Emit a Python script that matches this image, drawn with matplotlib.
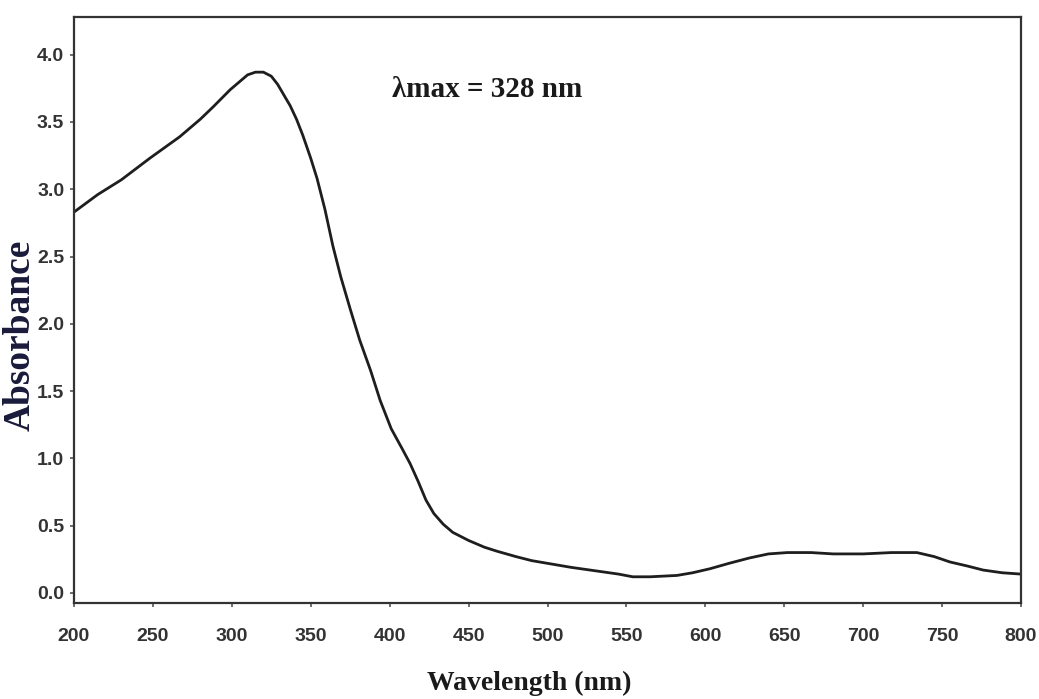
import matplotlib
matplotlib.use("Agg")
import matplotlib.pyplot as plt

wavelength = [200, 215, 230, 248, 267, 280, 288, 299, 305, 310, 315, 320, 325, 329,
              333, 337, 341, 345, 350, 354, 359, 364, 369, 375, 381, 388, 394, 401,
              408, 413, 418, 423, 428, 434, 440, 450, 460, 468, 480, 490, 500, 515,
              533, 545, 554, 565, 582, 592, 603, 615, 628, 640, 652, 667, 681, 700,
              718, 734, 745, 755, 766, 776, 788, 800]
absorbance = [2.83, 2.96, 3.07, 3.23, 3.39, 3.52, 3.61, 3.74, 3.80, 3.85, 3.87, 3.87, 3.84, 3.78,
              3.70, 3.62, 3.52, 3.40, 3.23, 3.08, 2.85, 2.58, 2.35, 2.11, 1.88, 1.65, 1.43, 1.22,
              1.07, 0.96, 0.83, 0.69, 0.59, 0.51, 0.45, 0.39, 0.34, 0.31, 0.27, 0.24, 0.22, 0.19,
              0.16, 0.14, 0.12, 0.12, 0.13, 0.15, 0.18, 0.22, 0.26, 0.29, 0.30, 0.30, 0.29, 0.29,
              0.30, 0.30, 0.27, 0.23, 0.20, 0.17, 0.15, 0.14]

x_ticks = [200, 250, 300, 350, 400, 450, 500, 550, 600, 650, 700, 750, 800]
y_ticks = [0.0, 0.5, 1.0, 1.5, 2.0, 2.5, 3.0, 3.5, 4.0]
annotation = "λmax = 328 nm"

fig = plt.figure(figsize=(10.39, 6.99), dpi=100)
ax = fig.add_axes([0.0712, 0.1373, 0.9115, 0.8384])
ax.plot(wavelength, absorbance, color="#1e1e1e", lw=2.0,
        solid_capstyle="round", solid_joinstyle="round")

ax.set_xlim(200, 800)
ax.set_ylim(-0.075, 4.28)
ax.set_xticks(x_ticks)
ax.set_yticks(y_ticks)
ax.set_xticklabels([str(v) for v in x_ticks])
ax.set_yticklabels([f"{v:.1f}" for v in y_ticks])
for lab in ax.get_xticklabels() + ax.get_yticklabels():
    lab.set_fontfamily("Liberation Sans")
    lab.set_fontweight("bold")
    lab.set_fontsize(14)
    lab.set_color("#333333")
ax.tick_params(axis="x", direction="out", length=3, width=1.2, color="#555555", pad=15)
ax.tick_params(axis="y", direction="out", length=3, width=1.2, color="#555555", pad=4)
for s in ax.spines.values():
    s.set_color("#333333")
    s.set_linewidth(1.6)

ax.text(462, 3.74, annotation, ha="center", va="center", fontsize=21,
        family="Liberation Serif", weight="bold", color="#1a1a1a")

fig.text(0.0195, 0.52, "Absorbance", rotation=90, ha="center", va="center",
         fontsize=27, family="Liberation Serif", weight="bold", color="#1a1a3a")
fig.text(0.509, 0.005, "Wavelength (nm)", ha="center", va="bottom",
         fontsize=20, family="Liberation Serif", weight="bold", color="#1a1a1a")

fig.savefig("out.png", dpi=100, facecolor="white")
